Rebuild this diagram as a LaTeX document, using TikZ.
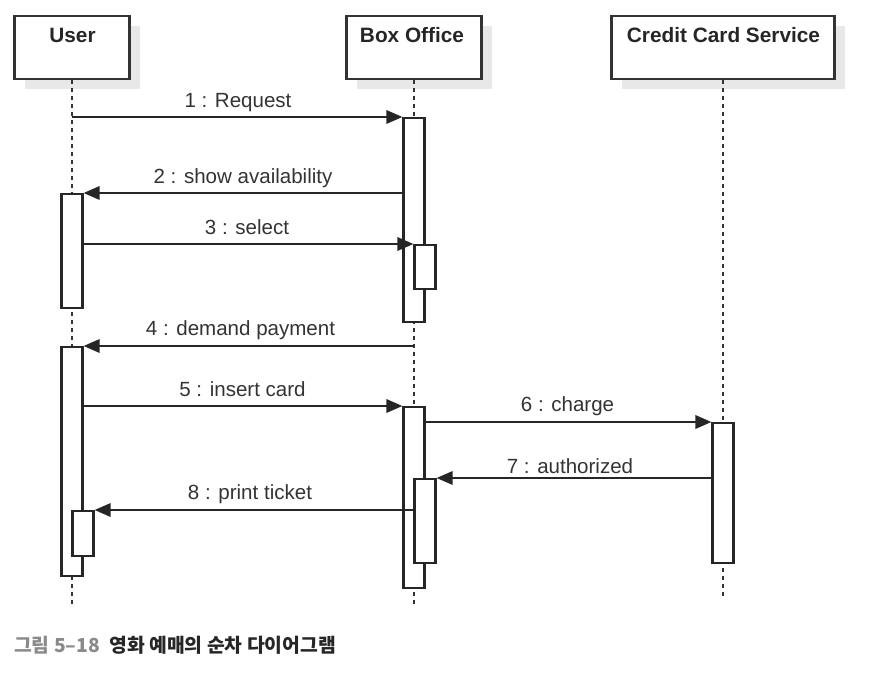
\documentclass[tikz,border=0pt]{standalone}
\usepackage{fontspec}
\setmainfont{Liberation Sans}
\newfontfamily\krfont{Noto Sans CJK KR}
\usetikzlibrary{arrows.meta,shadows}

\definecolor{lblgray}{HTML}{333333}
\definecolor{capgray}{HTML}{8A8A8A}
\definecolor{shadowgray}{HTML}{E8E8E8}

\tikzset{every picture/.style={line width=1.6pt}}
\tikzset{
  headbox/.style={draw=black!80, fill=white, minimum height=47.25pt, inner sep=0pt, anchor=north,
    drop shadow={shadow xshift=7.5pt, shadow yshift=-7.5pt, fill=shadowgray, opacity=1}},
  headtxt/.style={anchor=base, inner sep=0pt, text=black!85, font=\fontsize{15.6}{18}\selectfont\bfseries},
  actbar/.style={draw=black!85, fill=white, minimum width=15.75pt, inner sep=0pt, anchor=north},
  lifeline/.style={draw=black!80, dash pattern=on 3pt off 3pt},
  msg/.style={draw=black!85, -{Triangle[length=12pt,width=10pt]}},
  msglbl/.style={anchor=base, inner sep=0pt, text=lblgray, font=\fontsize{15.4}{18}\selectfont},
}

\begin{document}
\begin{tikzpicture}[x=0.75pt,y=0.75pt,yscale=-1,xscale=1]
\useasboundingbox (0,0) rectangle (877,673);

% Head boxes
\node[headbox, minimum width=86.25pt] (user) at (72,15) {};
\node[headbox, minimum width=101.25pt] (box) at (414,15) {};
\node[headbox, minimum width=167.25pt] (ccs) at (723,15) {};
\node[headtxt] (userTxt) at (72.5,43) {User};
\node[headtxt] (boxTxt) at (412,43) {Box Office};
\node[headtxt] (ccsTxt) at (723.5,43) {Credit Card Service};

% Lifelines
\coordinate (userEnd) at (72,608);
\coordinate (boxEnd) at (414,608);
\coordinate (ccsEnd) at (723,597);
\draw[lifeline] (user.south) -- (userEnd);
\draw[lifeline] (box.south) -- (boxEnd);
\draw[lifeline] (ccs.south) -- (ccsEnd);

% Activation bars
\node[actbar, minimum height=85.5pt] (uA1) at (72,193) {};
\node[actbar, minimum height=171.75pt] (uA2) at (72,346) {};
\node[actbar, minimum height=33.75pt] (uA2n) at (83,510) {};
\node[actbar, minimum height=153pt] (bA1) at (414,117) {};
\node[actbar, minimum height=33pt] (bA1n) at (425,244) {};
\node[actbar, minimum height=135.75pt] (bA2) at (414,406) {};
\node[actbar, minimum height=63pt] (bA2n) at (425,478) {};
\node[actbar, minimum height=105pt] (cA1) at (723,422) {};

% Messages
\draw[msg] (user.south |- bA1.north) -- (bA1.north west);
\draw[msg] (bA1.west |- uA1.north) -- (uA1.north east);
\draw[msg] (uA1.east |- bA1n.north) -- (bA1n.north west);
\draw[msg] (box.south |- uA2.north) -- (uA2.north east);
\draw[msg] (uA2.east |- bA2.north) -- (bA2.north west);
\draw[msg] (bA2.east |- cA1.north) -- (cA1.north west);
\draw[msg] (cA1.west |- bA2n.north) -- (bA2n.north east);
\draw[msg] (bA2n.west |- uA2n.north) -- (uA2n.north east);

% Message labels
\node[msglbl] (l1) at (238,108) {1 : Request};
\node[msglbl] (l2) at (243,184) {2 : show availability};
\node[msglbl] (l3) at (247,235) {3 : select};
\node[msglbl] (l4) at (240.5,335) {4 : demand payment};
\node[msglbl] (l5) at (242.5,396) {5 : insert card};
\node[msglbl] (l6) at (567.5,411) {6 : charge};
\node[msglbl] (l7) at (570,473) {7 : authorized};
\node[msglbl] (l8) at (250,499) {8 : print ticket};

% Caption
\node[anchor=base west, inner sep=0pt, font=\krfont\bfseries\fontsize{14.5}{17}\selectfont] (caption) at (13,652)
  {\textcolor{capgray}{그림 5–18}\hspace{7pt}{\color{black!85}영화 예매의 순차 다이어그램}};
\end{tikzpicture}
\end{document}
